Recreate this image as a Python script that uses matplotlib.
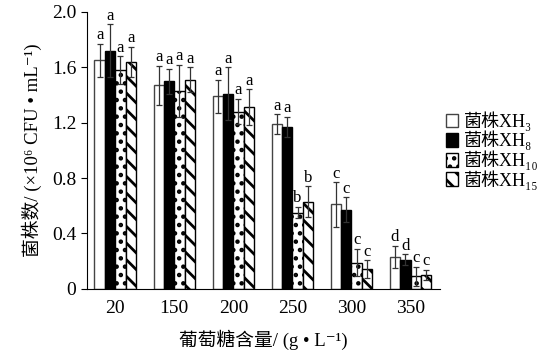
import numpy as np
import matplotlib
matplotlib.use("Agg")
import matplotlib.pyplot as plt

plt.rcParams['font.family'] = ['Liberation Serif', 'DejaVu Serif', 'Noto Sans CJK SC']
plt.rcParams['hatch.linewidth'] = 2.0

glucose = ['20', '150', '200', '250', '300', '350']
strains = ['菌株XH₃', '菌株XH₈', '菌株XH₁₀', '菌株XH₁₅']

xh3 = [1.65, 1.47, 1.39, 1.19, 0.61, 0.23]
xh8 = [1.72, 1.50, 1.41, 1.17, 0.57, 0.21]
xh10 = [1.58, 1.43, 1.28, 0.55, 0.19, 0.09]
xh15 = [1.64, 1.51, 1.31, 0.63, 0.14, 0.10]

err3 = [0.12, 0.14, 0.12, 0.07, 0.16, 0.08]
err8 = [0.19, 0.09, 0.19, 0.07, 0.09, 0.04]
err10 = [0.10, 0.19, 0.09, 0.04, 0.10, 0.07]
err15 = [0.11, 0.09, 0.13, 0.11, 0.065, 0.035]

sig3 = ['a', 'a', 'a', 'a', 'c', 'd']
sig8 = ['a', 'a', 'a', 'a', 'c', 'd']
sig10 = ['a', 'a', 'a', 'b', 'c', 'c']
sig15 = ['a', 'a', 'a', 'b', 'c', 'c']

values = [xh3, xh8, xh10, xh15]
errors = [err3, err8, err10, err15]
sigs = [sig3, sig8, sig10, sig15]
styles = [
    dict(color='white', edgecolor='#444444', hatch=None),
    dict(color='black', edgecolor='black', hatch=None),
    dict(color='white', edgecolor='black', hatch='..'),
    dict(color='white', edgecolor='black', hatch='\\\\'),
]

fig = plt.figure(figsize=(5.46, 3.62), dpi=100)
ax = fig.add_axes([0.159, 0.202, 0.647, 0.765])

x = np.arange(len(glucose))
w = 0.175
for i in range(4):
    pos = x + (i - 1.5) * w
    ax.bar(pos, values[i], w, yerr=errors[i], capsize=2.5,
           error_kw=dict(ecolor='#333333', elinewidth=0.9, capthick=0.9),
           linewidth=1.0, label=strains[i], **styles[i])
    for p, v, e, s in zip(pos, values[i], errors[i], sigs[i]):
        ax.text(p, v + e + 0.005, s, ha='center', va='bottom', fontsize=12)

ax.set_xlim(-0.48, 5.5)
ax.set_ylim(0, 2.0)
ax.set_yticks([0, 0.4, 0.8, 1.2, 1.6, 2.0])
ax.set_yticklabels(['0', '0.4', '0.8', '1.2', '1.6', '2.0'])
ax.set_xticks(x)
ax.set_xticklabels(glucose)
ax.tick_params(axis='both', labelsize=14)
ax.tick_params(axis='x', length=0, pad=8)
ax.tick_params(axis='y', direction='out', length=4)
ax.spines['top'].set_visible(False)
ax.spines['right'].set_visible(False)

ax.set_ylabel('菌株数/ (×10⁶ CFU • mL⁻¹)', fontsize=13.5, labelpad=7)
ax.set_xlabel('葡萄糖含量/ (g • L⁻¹)', fontsize=13.5, labelpad=9)

ax.legend(loc='center left', bbox_to_anchor=(0.985, 0.5), frameon=False,
          fontsize=13, handlelength=0.7, handleheight=0.8,
          handletextpad=0.3, labelspacing=0.0, borderaxespad=0.2)

fig.savefig('out.png', dpi=100)
